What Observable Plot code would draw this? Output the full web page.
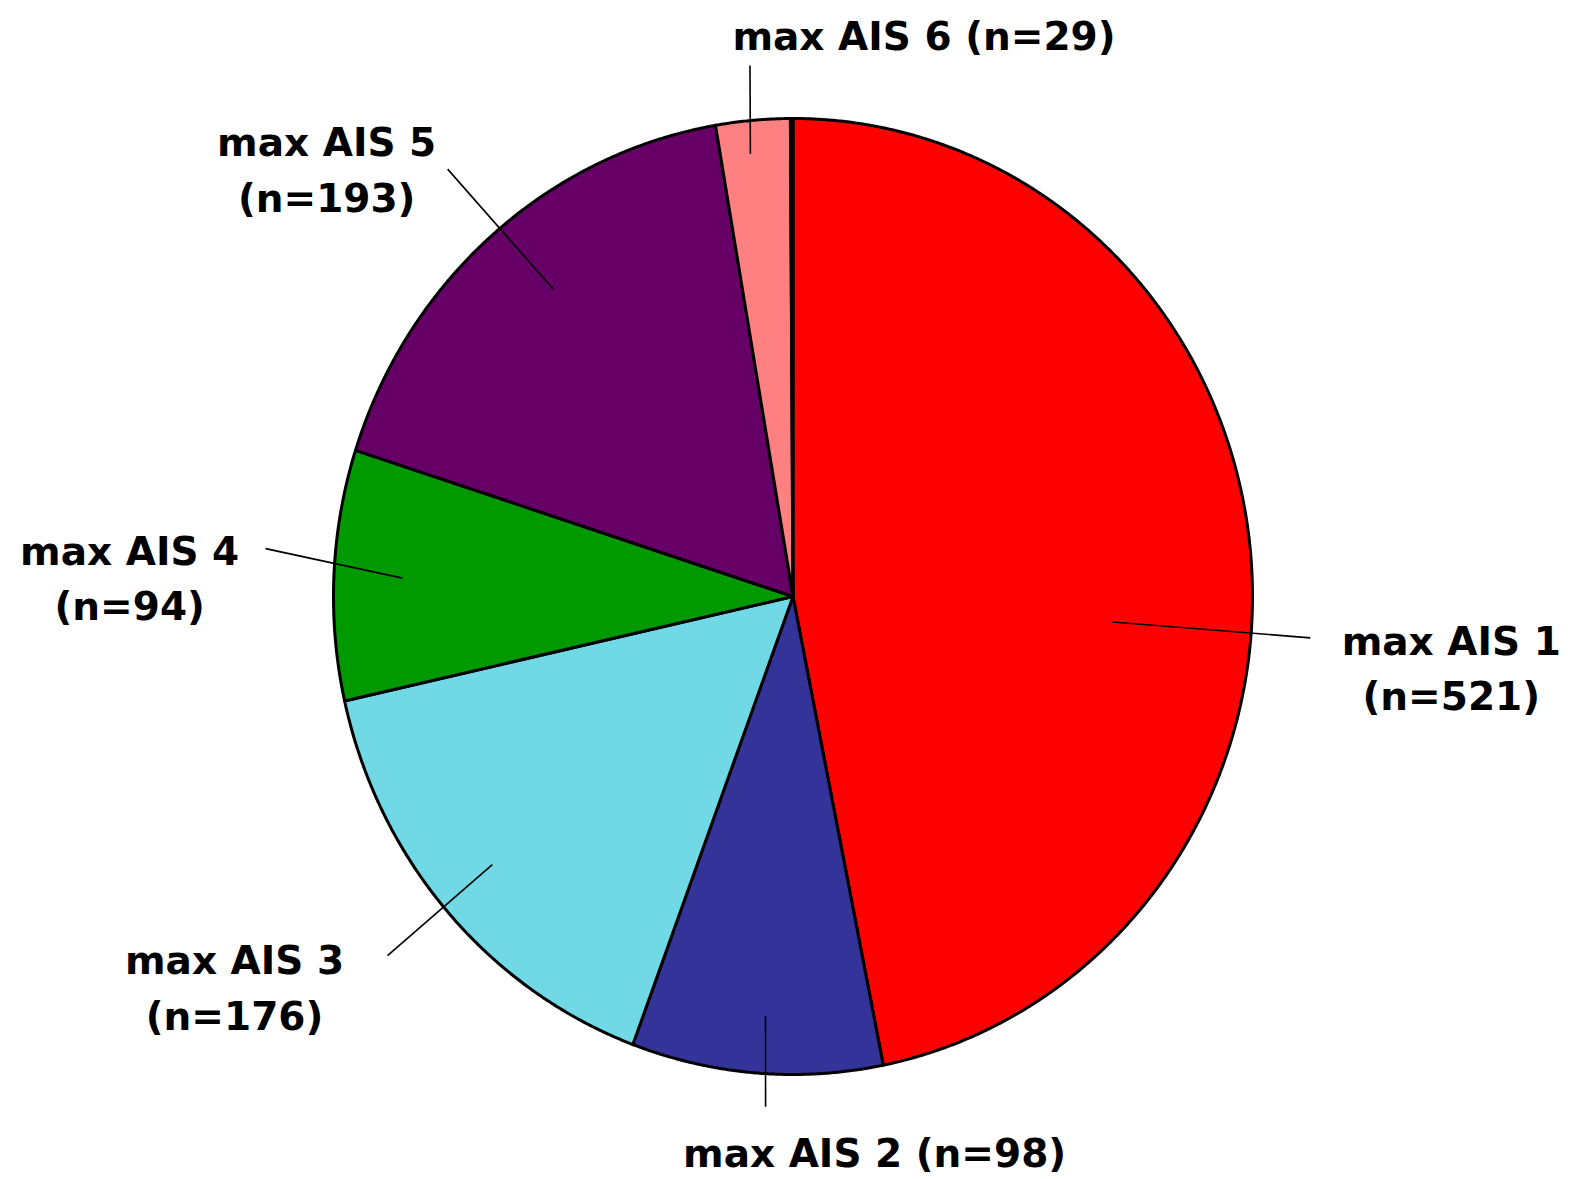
<!DOCTYPE html>
<html>
<head>
<meta charset="utf-8">
<script src="https://cdn.jsdelivr.net/npm/d3@7"></script>
<script src="https://cdn.jsdelivr.net/npm/@observablehq/plot@0.6"></script>
<style>
  html, body { margin: 0; padding: 0; background: #ffffff; }
  #chart { width: 1576px; height: 1179px; overflow: hidden; }
</style>
</head>
<body>
<div id="chart"></div>
<script>
// ---- data ----
const categories = ["max AIS 1", "max AIS 2", "max AIS 3", "max AIS 4", "max AIS 5", "max AIS 6", "other"];
const counts = [521, 98, 176, 94, 193, 29, 1];
const labels = ["max AIS 1\n(n=521)", "max AIS 2 (n=98)", "max AIS 3\n(n=176)", "max AIS 4\n(n=94)", "max AIS 5\n(n=193)", "max AIS 6 (n=29)", ""];
const colors = ["#ff0000", "#333399", "#70d9e5", "#009900", "#660066", "#ff8080", "#000000"];

// ---- layout (pixels / degrees) ----
const W = 1576, H = 1179;
const CX = 792.5, CY = 596, RX = 459.5, RY = 478;
const leaderShift0 = [10.06, -0.63, 0.5, 0.0, 1.9, -0.7, 0];
const leaderShift1 = [10.06, -1.33, 0.7, 2.4, 0.9, 0.2, 0];
const leaderR0 = [0.697, 0.879, 0.862, 0.851, 0.827, 0.931, 0];
const leaderR1 = [1.129, 1.069, 1.159, 1.152, 1.168, 1.115, 0];
const labelDx = [141, 109, -153, -136, -121, 174, 0];
const labelDy = [27, 43, 28.5, 26, -3, -33, 0];

const rows = categories.map((c, i) => ({key: c, count: counts[i], label: labels[i], i}));
const arcs = d3.pie().sort(null).value(d => d.count)(rows);

// polygon points of each slice (angle from 12 o'clock, clockwise; y down)
const step = Math.PI / 720;
const slicePts = [];
for (const a of arcs) {
  slicePts.push({key: a.data.key, x: 0, y: 0});
  const n = Math.max(2, Math.ceil((a.endAngle - a.startAngle) / step));
  for (let k = 0; k <= n; k++) {
    const t = a.startAngle + (a.endAngle - a.startAngle) * k / n;
    slicePts.push({key: a.data.key, x: Math.sin(t), y: -Math.cos(t)});
  }
  slicePts.push({key: a.data.key, x: 0, y: 0});
}

const rad = Math.PI / 180;
const leaders = arcs.filter(a => a.data.label).map(a => {
  const i = a.data.i;
  const mid = (a.startAngle + a.endAngle) / 2;
  const t0 = mid + leaderShift0[i] * rad, t1 = mid + leaderShift1[i] * rad;
  const x2 = leaderR1[i] * Math.sin(t1), y2 = -leaderR1[i] * Math.cos(t1);
  return {
    x1: leaderR0[i] * Math.sin(t0), y1: -leaderR0[i] * Math.cos(t0),
    x2, y2,
    tx: x2 + labelDx[i] / RX, ty: y2 + labelDy[i] / RY,
    label: a.data.label
  };
});

const chart = Plot.plot({
  width: W,
  height: H,
  margin: 0,
  x: {domain: [-CX / RX, (W - CX) / RX], range: [0, W], axis: null},
  y: {domain: [-CY / RY, (H - CY) / RY], range: [0, H], axis: null},
  color: {domain: categories, range: colors},
  style: {background: "#ffffff"},
  marks: [
    Plot.line(slicePts, {x: "x", y: "y", z: "key", fill: "key", stroke: "#000000", strokeWidth: 3, strokeLinejoin: "round"}),
    Plot.link(leaders, {x1: "x1", y1: "y1", x2: "x2", y2: "y2", stroke: "#000000", strokeWidth: 1.6}),
    Plot.text(leaders, {x: "tx", y: "ty", text: "label", textAnchor: "middle", lineAnchor: "middle",
      lineHeight: 1.42, fontSize: 39, fontWeight: "bold", fontFamily: "DejaVu Sans", fill: "#000000"})
  ]
});
document.getElementById("chart").appendChild(chart);
</script>
</body>
</html>
